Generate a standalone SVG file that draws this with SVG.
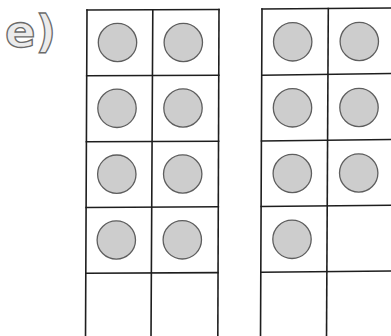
<svg xmlns="http://www.w3.org/2000/svg" width="391" height="336" viewBox="0 0 391 336">
<defs>
<style>
.ln{stroke:#1e1e1e;stroke-width:1.6;fill:none;stroke-linecap:square}
.dot{fill:#cdcdcd;stroke:#5e5e5e;stroke-width:1.3}
.lbl{font-family:"DejaVu Sans",sans-serif;font-size:45px;font-weight:bold;fill:#ebebeb;stroke:#6a6a6a;stroke-width:1.3}
</style>
</defs>
<rect width="391" height="336" fill="#ffffff"/>
<text class="lbl" x="5" y="47">e)</text>
<g id="frame-left">
<path class="ln" d="M87 10 L85.5 340"/>
<path class="ln" d="M152.8 10 L151 340"/>
<path class="ln" d="M219 9.5 L217.8 340"/>
<path class="ln" d="M87 10 L219 9.5"/>
<path class="ln" d="M86.7 75.8 L218.8 75.2"/>
<path class="ln" d="M86.4 141.8 L218.6 141.2"/>
<path class="ln" d="M86.1 207.5 L218.3 206.8"/>
<path class="ln" d="M85.8 273.3 L218 272.6"/>
</g>
<g id="dots-left">
<circle class="dot" cx="117.5" cy="42.5" r="19.2"/>
<circle class="dot" cx="183.3" cy="42.5" r="19.2"/>
<circle class="dot" cx="117" cy="108.3" r="19.2"/>
<circle class="dot" cx="183" cy="108" r="19.2"/>
<circle class="dot" cx="116.8" cy="174.2" r="19.2"/>
<circle class="dot" cx="182.7" cy="174" r="19.2"/>
<circle class="dot" cx="116.3" cy="240" r="19.2"/>
<circle class="dot" cx="182.3" cy="239.8" r="19.2"/>
</g>
<g id="frame-right">
<path class="ln" d="M262 9 L260.5 340"/>
<path class="ln" d="M328.3 8.5 L326.5 340"/>
<path class="ln" d="M262 9 L395 8"/>
<path class="ln" d="M261.8 75.3 L395 73.5"/>
<path class="ln" d="M261.5 141 L395 139.5"/>
<path class="ln" d="M261.2 206.5 L395 205.2"/>
<path class="ln" d="M260.9 272.3 L395 271"/>
</g>
<g id="dots-right">
<circle class="dot" cx="292.7" cy="41.8" r="19.2"/>
<circle class="dot" cx="359.3" cy="41.5" r="19.2"/>
<circle class="dot" cx="292.5" cy="107.8" r="19.2"/>
<circle class="dot" cx="359" cy="107.5" r="19.2"/>
<circle class="dot" cx="292.3" cy="173.5" r="19.2"/>
<circle class="dot" cx="358.7" cy="173" r="19.2"/>
<circle class="dot" cx="292" cy="239.3" r="19.2"/>
</g>
</svg>
